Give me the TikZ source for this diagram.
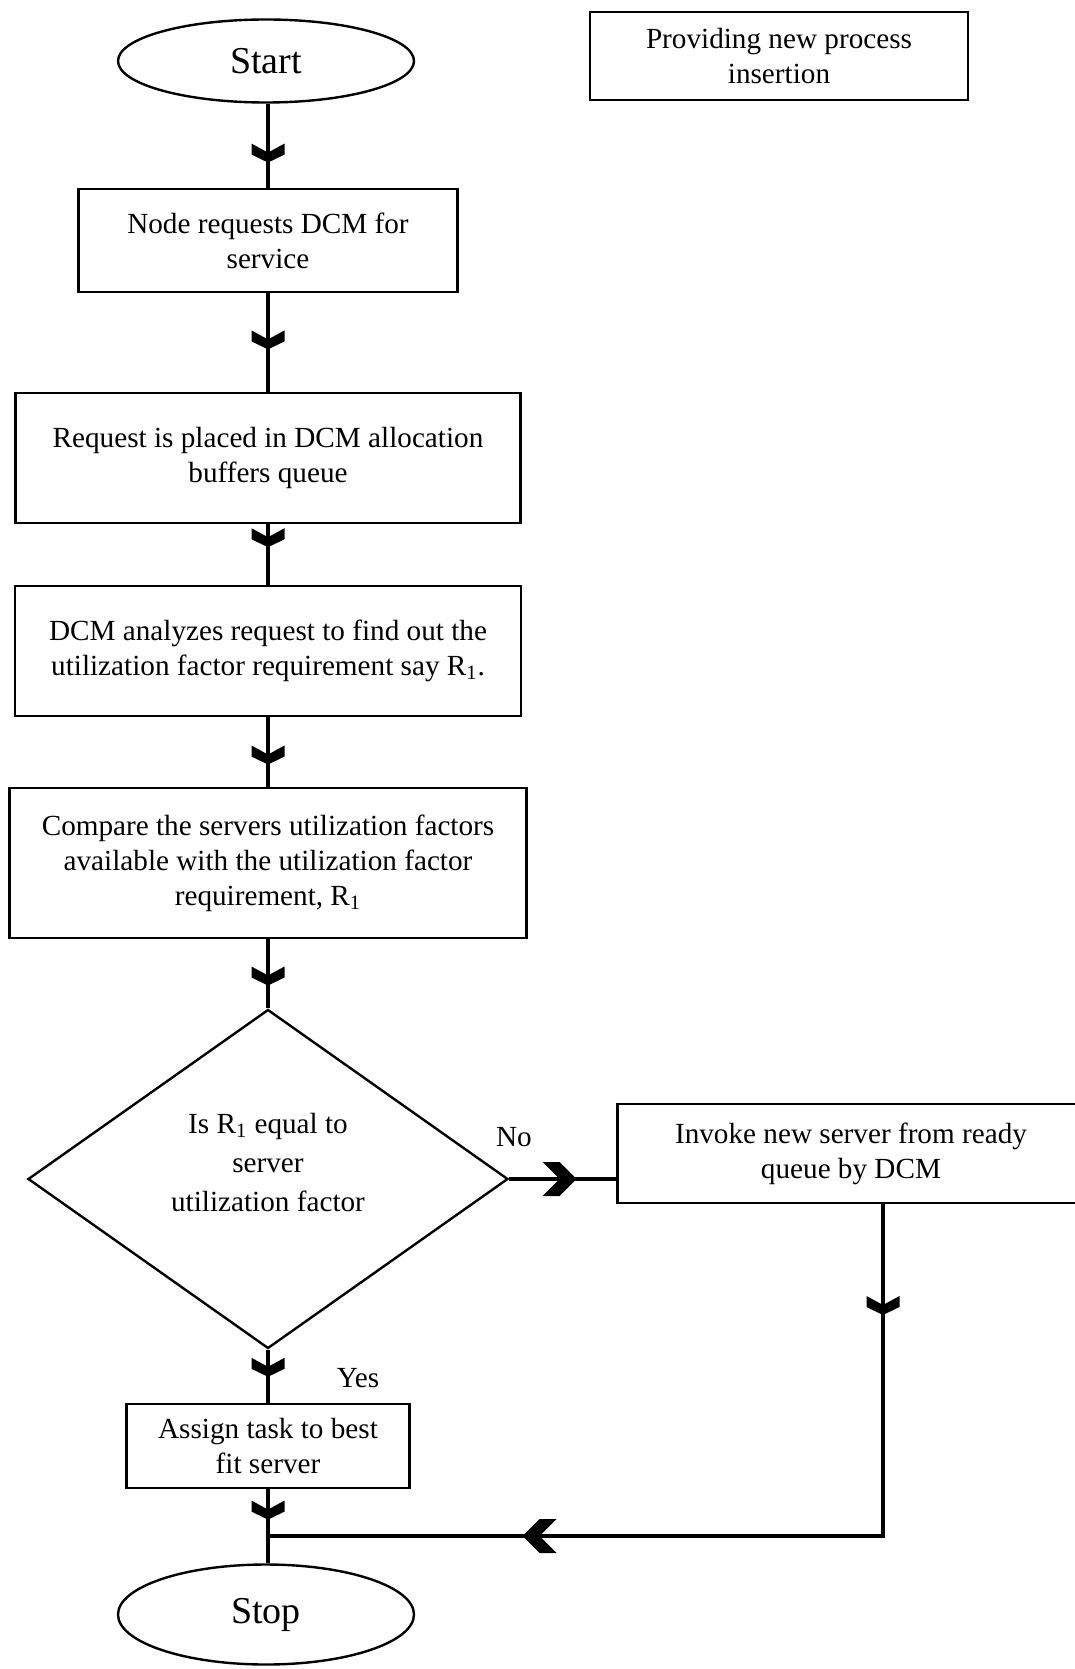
\documentclass[tikz,border=0pt]{standalone}
\usepackage{fontspec}
\setmainfont{Liberation Serif}
\usetikzlibrary{shapes.geometric,decorations.markings}
\newcommand{\chev}{\fill (0,0) -- (-8,16.5) -- (-19,16.5) -- (-10,0) -- (-19,-16.5) -- (-8,-16.5) -- cycle;}
\newcommand{\chevh}{\fill (0,0) -- (-17,17) -- (-34,17) -- (-17,0) -- (-34,-17) -- (-17,-17) -- cycle;}
\begin{document}
\begin{tikzpicture}[x=0.5pt,y=-0.5pt,
  flow/.style={line width=1.8pt, postaction={decorate, decoration={markings, mark=at position #1 with {\chev}}}},
  flowh/.style={line width=1.8pt, postaction={decorate, decoration={markings, mark=at position #1 with {\chevh}}}}]
  \tikzstyle{every node}+=[font=\fontsize{14.6}{17.5}\selectfont]
  \tikzstyle{box}=[draw, line width=1.2pt, inner sep=2pt, align=center]
  \tikzstyle{term}=[draw, ellipse, line width=1.2pt, inner sep=0pt, font=\fontsize{19}{22}\selectfont]
  \tikzstyle{decision}=[draw, diamond, line width=1.2pt, inner sep=0pt, minimum width=240pt, minimum height=169.5pt]
  \clip (0,0) rectangle (1075,1669);
  \node [term, minimum width=148pt, minimum height=41.5pt] (start) at (266,61) {Start};
  \node [box, minimum width=189pt, minimum height=44pt] (title) at (779,56) {Providing new process\\insertion};
  \node [box, minimum width=189.5pt, minimum height=51.5pt] (req) at (268,240.5) {Node requests DCM for\\service};
  \node [box, minimum width=252.5pt, minimum height=65pt] (place) at (268,458) {Request is placed in DCM allocation\\buffers queue};
  \node [box, minimum width=253pt, minimum height=65pt] (analyze) at (268,651) {DCM analyzes request to find out the\\utilization factor requirement say R\textsubscript{1}.};
  \node [box, minimum width=258.5pt, minimum height=75pt] (compare) at (268,863) {Compare the servers utilization factors\\available with the utilization factor\\requirement, R\textsubscript{1}};
  \node [decision, label={[align=center, yshift=8.5pt, font=\fontsize{14.6}{19.5}\selectfont]center:Is R\textsubscript{1} equal to\\server\\utilization factor}] (decide) at (268,1179) {};
  \node [box, minimum width=233.5pt, minimum height=49.5pt] (invoke) at (851,1153.5) {Invoke new server from ready\\queue by DCM};
  \node [box, minimum width=141.5pt, minimum height=42pt] (assign) at (268,1446) {Assign task to best\\fit server};
  \node [term, minimum width=148pt, minimum height=50pt] (stop) at (266,1614.5) {Stop};
  \node (no) at (514,1137) {No};
  \node (yes) at (358,1378) {Yes};
  \coordinate (corner) at (883,1536);
  \coordinate (join) at (268,1536);
  \draw [flow=0.70] (start.south -| req) -- (req);
  \draw [flow=0.57] (req) -- (place);
  \draw [flow=0.38] (place) -- (analyze);
  \draw [flow=0.68] (analyze) -- (compare);
  \draw [flow=0.67] (compare) -- (decide);
  \draw [flowh=0.63] (decide.east) -- (decide.east -| invoke.west);
  \draw [flow=0.51] (decide) -- (assign);
  \draw [flow=0.41] (assign) -- (stop.north -| assign);
  \draw [flow=0.117, flowh=0.731] (invoke.south -| corner) -- (corner) -- (join);
\end{tikzpicture}
\end{document}
